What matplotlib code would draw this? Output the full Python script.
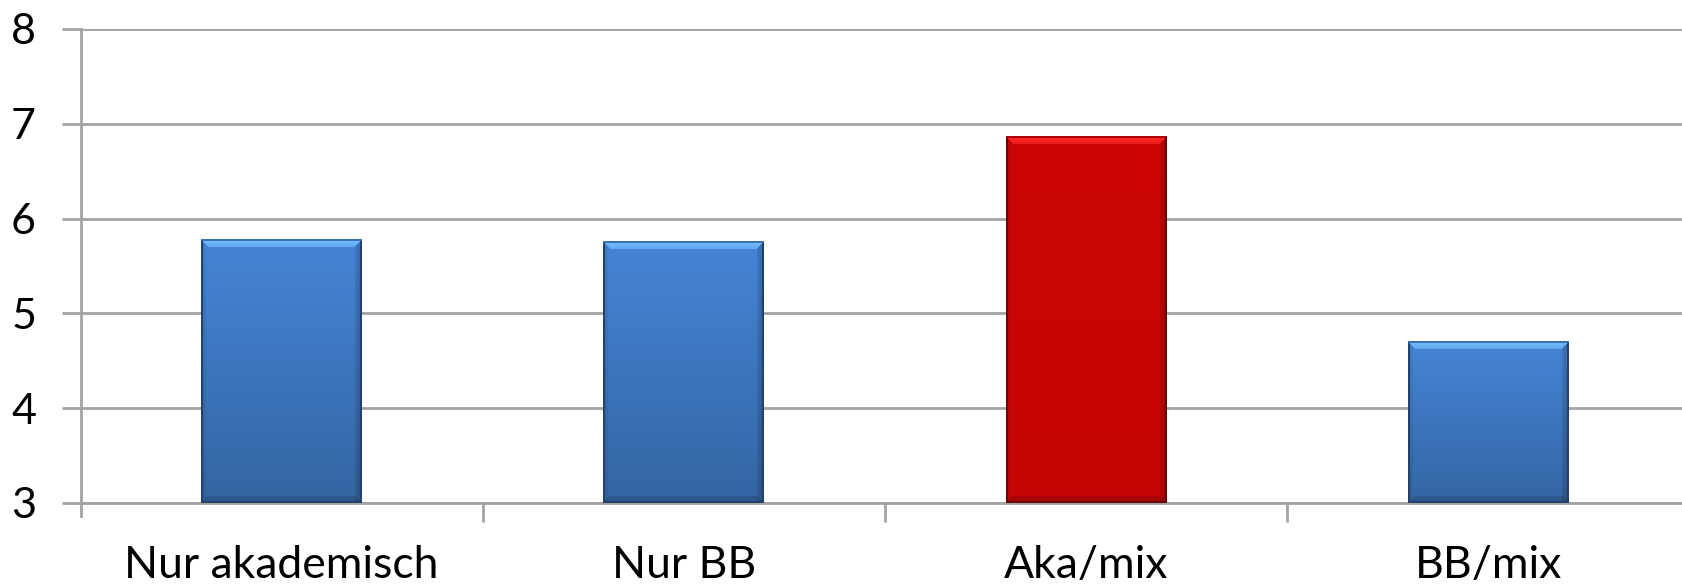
import numpy as np
import matplotlib
matplotlib.use("Agg")
import matplotlib.pyplot as plt
from matplotlib.colors import to_rgb

categories = ["Nur akademisch", "Nur BB", "Aka/mix", "BB/mix"]
values = [5.78, 5.76, 6.87, 4.70]
bar_colors = ["#4585d6", "#4585d6", "#cc0606", "#4585d6"]
fade = [0.24, 0.24, 0.03, 0.24]  # top-to-bottom darkening of each bar
y_ticks = [3, 4, 5, 6, 7, 8]

plt.rcParams["font.family"] = ["Lato", "DejaVu Sans"]

W, H, DPI = 1682, 585, 100
fig = plt.figure(figsize=(W / DPI, H / DPI), dpi=DPI)
left_px, cat_px = 80.5, 402.3
top_px, bot_px = 29, 503
ax = fig.add_axes([left_px / W, 1 - bot_px / H,
                   4 * cat_px / W, (bot_px - top_px) / H])
ax.set_xlim(-0.5, 3.5)
ax.set_ylim(3, 8)

# grid + axes styling
ax.set_yticks(y_ticks)
ax.yaxis.grid(True, color="#a3a3a3", linewidth=2.0, zorder=0)
ax.set_axisbelow(True)
for s in ["top", "right"]:
    ax.spines[s].set_visible(False)
ax.spines["left"].set_color("#a3a3a3")
ax.spines["left"].set_linewidth(2.0)
ax.spines["bottom"].set_color("#a3a3a3")
ax.spines["bottom"].set_linewidth(2.0)
ax.spines["left"].set_bounds(2.86, 8)
ax.tick_params(axis="y", length=14, width=2, color="#a3a3a3", pad=18,
               labelsize=31, labelcolor="black")
ax.set_xticks([0.5, 1.5, 2.5])
ax.set_xticks(range(len(categories)), minor=True)
ax.set_xticklabels([])
ax.set_xticklabels(categories, minor=True)
ax.tick_params(axis="x", which="major", length=14, width=2, color="#a3a3a3")
ax.tick_params(axis="x", which="minor", length=0, pad=30, labelsize=32,
               labelcolor="black")

bars = ax.bar(range(len(categories)), [v - 3 for v in values], bottom=3,
              width=0.4, color=bar_colors, zorder=2, linewidth=0)

px_per_x = cat_px
px_per_y = (bot_px - top_px) / 5.0
bevel = 8.0

for bar, col, fd in zip(bars, bar_colors, fade):
    x0, y0 = bar.get_x(), bar.get_y()
    w, h = bar.get_width(), bar.get_height()
    wpx, hpx = int(round(w * px_per_x)), int(round(h * px_per_y))
    base = np.array(to_rgb(col))
    yy, xx = np.mgrid[0:hpx, 0:wpx].astype(float)  # yy from top
    t = yy / max(hpx - 1, 1)
    img = base[None, None, :] * (1.0 - fd * t)[..., None]
    dl, dr, dt, db = xx, wpx - 1 - xx, yy, hpx - 1 - yy
    # top bevel: lighter strip with mitred corners
    top = (dt < bevel) & (dt <= dl) & (dt <= dr)
    light = np.clip(base * 1.18 + 0.14, 0, 1)
    img[top] = light * (1 - 0.45 * (dt[top] / bevel))[:, None] + \
        base * (0.45 * (dt[top] / bevel))[:, None]
    # side and bottom bevels
    rside = (dr < bevel * 0.8) & ~top
    img[rside] *= (0.78 + 0.17 * (dr[rside] / bevel))[:, None]
    lside = (dl < bevel * 0.6) & ~top
    img[lside] *= (0.90 + 0.10 * (dl[lside] / bevel))[:, None]
    bot = (db < bevel * 0.8) & ~top & (db <= dl) & (db <= dr)
    img[bot] *= 0.86
    # thin dark outline
    edge = (dl < 1.5) | (dr < 1.5) | (db < 1.5)
    img[edge] = base * 0.5
    img[dt < 1.2] = base * 0.85
    ax.imshow(np.clip(img, 0, 1), extent=[x0, x0 + w, y0, y0 + h],
              aspect="auto", zorder=3, interpolation="bilinear")

ax.set_xlim(-0.5, 3.5)
ax.set_ylim(3, 8)

fig.savefig("out.png", dpi=DPI)
